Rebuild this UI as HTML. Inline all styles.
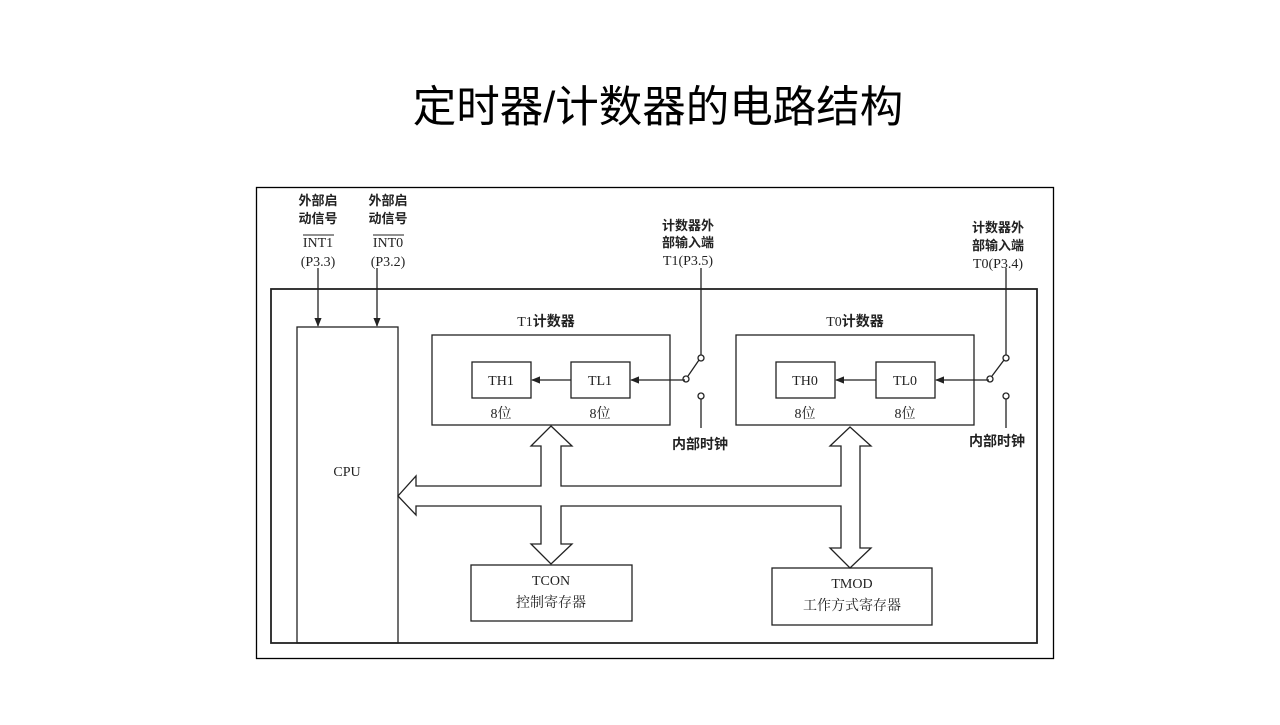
<!DOCTYPE html>
<html><head><meta charset="utf-8"><style>
body{margin:0;width:1280px;height:720px;background:#fff;overflow:hidden}
svg text{font-family:"Liberation Serif","Noto Serif CJK SC",serif;fill:#222}
.b{font-family:"Liberation Sans","Noto Sans CJK SC",sans-serif;font-weight:bold}
</style></head><body>
<svg width="1280" height="720" viewBox="0 0 1280 720">
<defs><marker id="a" viewBox="0 0 10 10" refX="9" refY="5" markerWidth="7" markerHeight="7" orient="auto"><path d="M0,1 L10,5 L0,9z" fill="#222"/></marker></defs>
<text x="658" y="122" text-anchor="middle" style="font-family:'Liberation Sans','Noto Sans CJK SC',sans-serif;font-size:43.5px;fill:#000">定时器/计数器的电路结构</text>
<g fill="none" stroke="#222" stroke-width="1.3">
<rect x="256.5" y="187.5" width="797" height="471" stroke="#000"/>
<rect x="271" y="289" width="766" height="354" stroke-width="1.8"/>
<rect x="297" y="327" width="101" height="316"/>
<rect x="432" y="335" width="238" height="90"/>
<rect x="472" y="362" width="59" height="36"/>
<rect x="571" y="362" width="59" height="36"/>
<rect x="736" y="335" width="238" height="90"/>
<rect x="776" y="362" width="59" height="36"/>
<rect x="876" y="362" width="59" height="36"/>
<rect x="471" y="565" width="161" height="56"/>
<rect x="772" y="568" width="160" height="57"/>
<line x1="318" y1="268" x2="318" y2="326" marker-end="url(#a)"/>
<line x1="377" y1="268" x2="377" y2="326" marker-end="url(#a)"/>
<line x1="571" y1="380" x2="532" y2="380" marker-end="url(#a)"/>
<line x1="876" y1="380" x2="836" y2="380" marker-end="url(#a)"/>
<line x1="685" y1="380" x2="631" y2="380" marker-end="url(#a)"/>
<line x1="989" y1="380" x2="936" y2="380" marker-end="url(#a)"/>
<line x1="701" y1="268" x2="701" y2="355"/><circle cx="701" cy="358" r="3"/><circle cx="686" cy="379" r="3"/><line x1="688" y1="376" x2="699" y2="360"/><circle cx="701" cy="396" r="3"/><line x1="701" y1="399" x2="701" y2="428"/>
<line x1="1006" y1="268" x2="1006" y2="355"/><circle cx="1006" cy="358" r="3"/><circle cx="990" cy="379" r="3"/><line x1="992" y1="376" x2="1004" y2="360"/><circle cx="1006" cy="396" r="3"/><line x1="1006" y1="399" x2="1006" y2="428"/>
<path d="M551,426 L572,446 L561,446 L561,486 L841,486 L841,446 L830,446 L850,427 L871,446 L860,446 L860,548 L871,548 L850,568 L830,548 L841,548 L841,506 L561,506 L561,544 L572,544 L551,564 L531,544 L541,544 L541,506 L416,506 L416,515 L398,496 L416,476 L416,486 L541,486 L541,446 L531,446 Z"/>
</g>
<g font-size="14" text-anchor="middle">
<text x="318" y="205" class="b" font-size="13">外部启</text><text x="318" y="223" class="b" font-size="13">动信号</text>
<text x="318" y="247">INT1</text><text x="318" y="266">(P3.3)</text><line x1="303" y1="235" x2="334" y2="235" stroke="#222"/>
<text x="388" y="205" class="b" font-size="13">外部启</text><text x="388" y="223" class="b" font-size="13">动信号</text>
<text x="388" y="247">INT0</text><text x="388" y="266">(P3.2)</text><line x1="373" y1="235" x2="404" y2="235" stroke="#222"/>
<text x="688" y="230" class="b" font-size="13">计数器外</text><text x="688" y="247" class="b" font-size="13">部输入端</text><text x="688" y="265">T1(P3.5)</text>
<text x="998" y="232" class="b" font-size="13">计数器外</text><text x="998" y="250" class="b" font-size="13">部输入端</text><text x="998" y="268">T0(P3.4)</text>
<text x="546" y="326"><tspan>T1</tspan><tspan class="b">计数器</tspan></text>
<text x="855" y="326"><tspan>T0</tspan><tspan class="b">计数器</tspan></text>
<text x="501" y="385">TH1</text><text x="600" y="385">TL1</text>
<text x="805" y="385">TH0</text><text x="905" y="385">TL0</text>
<text x="501" y="418">8位</text><text x="600" y="418">8位</text>
<text x="805" y="418">8位</text><text x="905" y="418">8位</text>
<text x="700" y="449" class="b">内部时钟</text><text x="997" y="446" class="b">内部时钟</text>
<text x="347" y="476">CPU</text>
<text x="551" y="585">TCON</text><text x="551" y="607">控制寄存器</text>
<text x="852" y="588">TMOD</text><text x="852" y="610">工作方式寄存器</text>
</g>
</svg>
</body></html>
